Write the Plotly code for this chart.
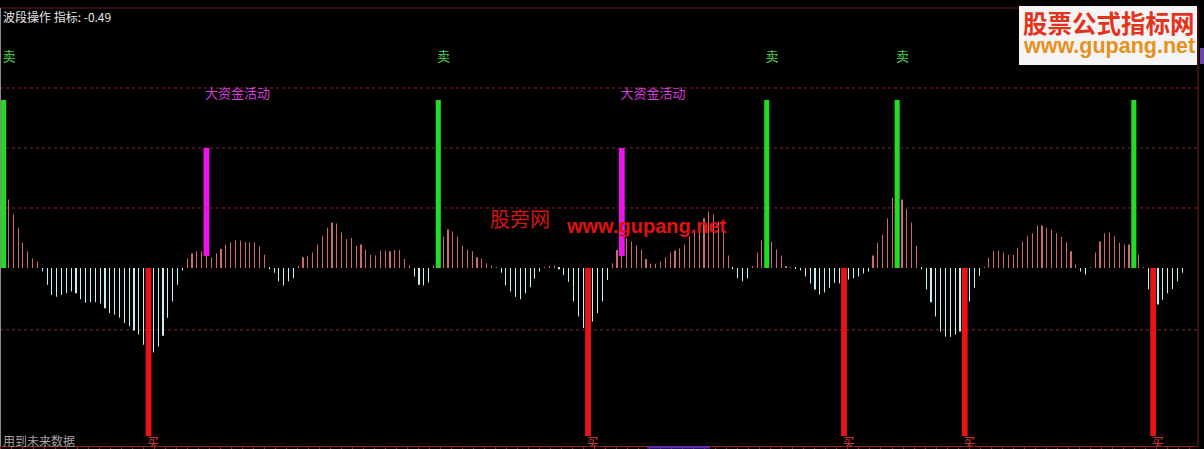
import plotly.graph_objects as go

# ---------------- data ----------------
indicator = [
    1.30, 1.14, 0.89, 0.67, 0.42, 0.28, 0.16, 0.11, -0.06, -0.28,
    -0.45, -0.48, -0.45, -0.42, -0.39, -0.42, -0.52, -0.58, -0.57, -0.57,
    -0.59, -0.67, -0.75, -0.78, -0.83, -0.92, -0.97, -1.04, -1.11, -1.28,
    -1.40, -1.41, -1.31, -1.13, -0.83, -0.56, -0.28, -0.04, 0.16, 0.24,
    0.28, 0.28, 0.22, 0.18, 0.24, 0.32, 0.39, 0.43, 0.46, 0.46,
    0.43, 0.43, 0.43, 0.36, 0.22, -0.02, -0.08, -0.22, -0.29, -0.22,
    -0.17, 0.03, 0.18, 0.19, 0.26, 0.39, 0.53, 0.67, 0.76, 0.74,
    0.59, 0.48, 0.50, 0.37, 0.39, 0.31, 0.22, 0.21, 0.29, 0.29,
    0.28, 0.30, 0.30, 0.15, 0.04, -0.14, -0.28, -0.29, -0.24, 0.04,
    0.10, 0.52, 0.64, 0.61, 0.52, 0.37, 0.31, 0.28, 0.18, 0.16,
    0.08, 0.04, 0.01, -0.08, -0.29, -0.39, -0.48, -0.52, -0.42, -0.32,
    -0.18, -0.06, 0.01, 0.03, 0.04, -0.02, -0.12, -0.23, -0.56, -0.81,
    -1.00, -1.05, -0.89, -0.75, -0.56, -0.20, 0.08, 0.30, 0.40, 0.50,
    0.44, 0.38, 0.31, 0.15, 0.07, 0.07, 0.11, 0.18, 0.26, 0.29,
    0.33, 0.39, 0.53, 0.64, 0.72, 0.83, 0.94, 0.89, 0.78, 0.64,
    0.21, -0.02, -0.17, -0.22, -0.17, 0.02, 0.26, 0.46, 0.60, 0.44,
    0.31, 0.21, 0.02, 0.01, -0.01, -0.04, -0.14, -0.26, -0.36, -0.44,
    -0.41, -0.33, -0.25, -0.26, -0.30, -0.19, -0.17, -0.14, -0.09, -0.06,
    0.21, 0.42, 0.56, 0.83, 1.17, 1.30, 1.14, 0.98, 0.76, 0.37,
    -0.02, -0.36, -0.57, -0.81, -1.06, -1.14, -1.15, -1.11, -1.06, -1.00,
    -0.56, -0.33, -0.13, 0.01, 0.17, 0.28, 0.29, 0.26, 0.22, 0.22,
    0.33, 0.44, 0.53, 0.58, 0.71, 0.71, 0.67, 0.64, 0.58, 0.52,
    0.43, 0.28, 0.06, -0.06, -0.11, 0.01, 0.26, 0.44, 0.58, 0.59,
    0.53, 0.42, 0.39, 0.39, 0.30, 0.22, 0.01, -0.36, -0.60, -0.61,
    -0.53, -0.42, -0.35, -0.22, -0.08,
]
sell_idx = [0, 90, 158, 185, 234]
sell_level = 2.8
buy_idx = [30, 121, 174, 199, 238]
buy_level = -2.8
fund_idx = [42, 128]
fund_low = 0.2
fund_high = 2.0
grid_levels = [3, 2, 1, -1.03]

sell_text = "卖"
buy_text = "买"
fund_text = "大资金活动"
title_text = "波段操作 指标: -0.49"
footer_text = "用到未来数据"

# ---------------- figure ----------------
W, H = 1204, 449
ML, MR, MT, MB = 0, 6, 8, 3
PW = W - ML - MR
PH = H - MT - MB
x0px, step = 3.6, 4.83
xr = [(0 - x0px) / step, (PW - x0px) / step]
yr = [-2.967, 4.333]

idx = list(range(len(indicator)))
pos_x = [i for i, v in zip(idx, indicator) if v >= 0]
pos_y = [v for v in indicator if v >= 0]
neg_x = [i for i, v in zip(idx, indicator) if v < 0]
neg_y = [v for v in indicator if v < 0]

fig = go.Figure()
fig.add_trace(go.Bar(x=pos_x, y=pos_y, width=0.03, marker=dict(color="#cf6a6a", line=dict(width=0)), hoverinfo="skip"))
fig.add_trace(go.Bar(x=neg_x, y=neg_y, width=0.03, marker=dict(color="#c4f2f2", line=dict(width=0)), hoverinfo="skip"))
fig.add_trace(go.Bar(x=sell_idx, y=[sell_level] * len(sell_idx), width=1.05,
                     marker=dict(color="#22dd22", line=dict(width=0)), hoverinfo="skip"))
fig.add_trace(go.Bar(x=buy_idx, y=[buy_level] * len(buy_idx), width=1.2,
                     marker=dict(color="#e81414", line=dict(width=0)), hoverinfo="skip"))
fig.add_trace(go.Bar(x=fund_idx, y=[fund_high - fund_low] * len(fund_idx), base=[fund_low] * len(fund_idx),
                     width=1.2, marker=dict(color="#ee12ee", line=dict(width=0)), hoverinfo="skip"))

cjk = "Noto Sans CJK SC"
fig.add_trace(go.Scatter(x=[i - 0.25 for i in sell_idx], y=[3.5] * len(sell_idx), mode="text",
                         text=[sell_text] * len(sell_idx), textposition="middle right",
                         textfont=dict(family=cjk, size=13, color="#4fd24f"), hoverinfo="skip", cliponaxis=False))
fig.add_trace(go.Scatter(x=[i - 0.3 for i in fund_idx], y=[2.88] * len(fund_idx), mode="text",
                         text=[fund_text] * len(fund_idx), textposition="middle right",
                         textfont=dict(family=cjk, size=13, color="#d83cd8"), hoverinfo="skip", cliponaxis=False))
fig.add_trace(go.Scatter(x=[i - 0.3 for i in buy_idx], y=[-2.93] * len(buy_idx), mode="text",
                         text=[buy_text] * len(buy_idx), textposition="middle right",
                         textfont=dict(family=cjk, size=12, color="#e04040"), hoverinfo="skip", cliponaxis=True))

shapes = []
for g in grid_levels:
    shapes.append(dict(type="line", xref="paper", yref="y", x0=0, x1=1, y0=g, y1=g,
                       line=dict(color="#8a2626", width=1, dash="dot"), layer="below"))
# frame lines
shapes.append(dict(type="line", xref="paper", yref="paper", x0=0, x1=1, y0=1, y1=1,
                   line=dict(color="#6e1c1c", width=1), layer="above"))
shapes.append(dict(type="line", xref="paper", yref="paper", x0=1, x1=1, y0=0, y1=1,
                   line=dict(color="#7a1c1c", width=1), layer="above"))
shapes.append(dict(type="line", xref="paper", yref="paper", x0=0.5 / PW, x1=0.5 / PW, y0=0, y1=1,
                   line=dict(color="#8c8c8c", width=1), layer="above"))
# scroll indicator / edge tag
shapes.append(dict(type="rect", xref="paper", yref="paper", x0=647 / PW, x1=710 / PW,
                   y0=-2.5 / PH, y1=-0.6 / PH, fillcolor="#4a30c8", line=dict(width=0), layer="above"))
shapes.append(dict(type="rect", xref="paper", yref="paper", x0=1200 / PW, x1=1204 / PW,
                   y0=(PH + MT - 64) / PH, y1=(PH + MT - 48) / PH, fillcolor="#6a44b0", line=dict(width=0), layer="above"))
# watermark box
shapes.append(dict(type="rect", xref="paper", yref="paper", x0=1019 / PW, x1=1197 / PW,
                   y0=(PH + MT - 65) / PH, y1=(PH + MT - 6) / PH, fillcolor="#f5f5f5",
                   line=dict(width=0), layer="above"))


def py(p):
    return (PH + MT - p) / PH


def px(p):
    return p / PW


annotations = [
    dict(text=title_text, x=px(1), y=py(17), xref="paper", yref="paper", xanchor="left", yanchor="middle",
         showarrow=False, font=dict(family=cjk, size=12, color="#e6e6e6")),
    dict(text=footer_text, x=px(1), y=py(440.5), xref="paper", yref="paper", xanchor="left", yanchor="middle",
         showarrow=False, font=dict(family=cjk, size=12, color="#a4a4a4")),
    dict(text="股票公式指标网", x=px(1108.5), y=py(22.5), xref="paper", yref="paper", xanchor="center",
         yanchor="middle", showarrow=False, font=dict(family=cjk, size=24.5, color="#e5331b", weight="bold")),
    dict(text="www.gupang.net", x=px(1109), y=py(46), xref="paper", yref="paper", xanchor="center",
         yanchor="middle", showarrow=False, font=dict(family="Liberation Sans", size=21.5, color="#e8901c", weight="bold")),
    dict(text="股旁网", x=px(520), y=py(218), xref="paper", yref="paper", xanchor="center",
         yanchor="middle", showarrow=False, font=dict(family=cjk, size=20, color="#d41515")),
    dict(text="www.gupang.net", x=px(647), y=py(226), xref="paper", yref="paper", xanchor="center",
         yanchor="middle", showarrow=False, font=dict(family="Liberation Sans", size=20, color="#e01212", weight="bold")),
]

fig.update_layout(
    width=W, height=H,
    margin=dict(l=ML, r=MR, t=MT, b=MB, pad=0),
    paper_bgcolor="#000000", plot_bgcolor="#000000",
    barmode="overlay", showlegend=False,
    xaxis=dict(range=xr, showgrid=False, zeroline=False, showticklabels=False,
               showline=True, linecolor="#9a2020", linewidth=1,
               ticks="outside", ticklen=3, tickcolor="#9a2020", tickmode="linear",
               tick0=xr[0], dtick=2.28, fixedrange=True),
    yaxis=dict(range=yr, showgrid=False, zeroline=False, showticklabels=False, fixedrange=True),
    shapes=shapes, annotations=annotations,
)

fig.write_html(
    "out.html",
    config={"displayModeBar": False},
    post_script="document.body.style.margin='0';document.body.style.background='#000';document.body.style.overflow='hidden';",
)
